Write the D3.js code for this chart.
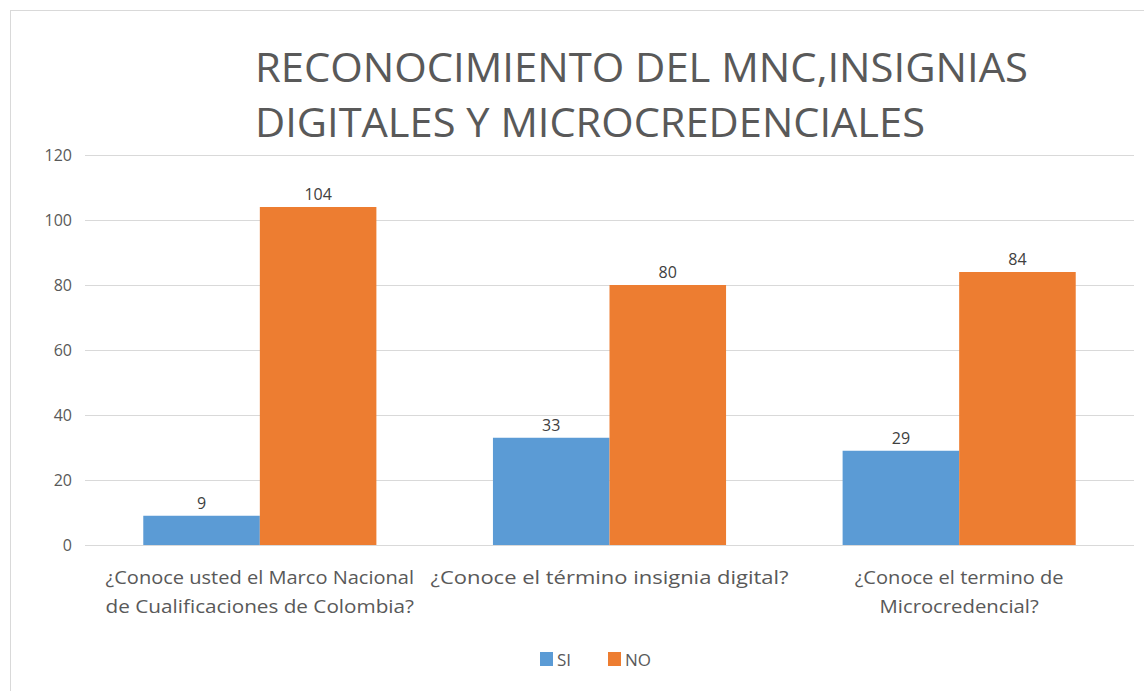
<!DOCTYPE html>
<html>
<head>
<meta charset="utf-8">
<script src="https://cdn.jsdelivr.net/npm/d3@7"></script>
<style>
  body { margin: 0; background: #fff; }
  svg { display: block; font-family: "Open Sans", "Noto Sans", sans-serif; }
</style>
</head>
<body>
<svg id="chart"></svg>
<script>
// data
const categories = [
    ["¿Conoce usted el Marco Nacional", "de Cualificaciones de Colombia?"],
    ["¿Conoce el término insignia digital?"],
    ["¿Conoce el termino de", "Microcredencial?"]
];
const seriesNames = ["SI", "NO"];
const siValues = [9, 33, 29];
const noValues = [104, 80, 84];
const yTicks = [0, 20, 40, 60, 80, 100, 120];
const titleLines = ["RECONOCIMIENTO DEL MNC,INSIGNIAS", "DIGITALES Y MICROCREDENCIALES"];

const colors = { SI: "#5B9BD5", NO: "#ED7D31" };

const width = 1144, height = 691;
const margin = { top: 155, right: 10, bottom: 146, left: 85 };

const svg = d3.select("#chart")
    .attr("width", width)
    .attr("height", height);

// outer frame
svg.append("rect")
    .attr("x", 10.5).attr("y", 10.5)
    .attr("width", 1200).attr("height", 800)
    .attr("fill", "none")
    .attr("stroke", "#d9d9d9");

// title
svg.selectAll(".title")
    .data(titleLines)
    .enter()
    .append("text")
    .attr("class", "title")
    .attr("x", 255)
    .attr("y", (d, i) => 82 + i * 55)
    .attr("fill", "#595959")
    .attr("font-size", "40px")
    .attr("textLength", (d, i) => i === 0 ? 773 : 670)
    .attr("lengthAdjust", "spacingAndGlyphs")
    .text(d => d);

const data = categories.map((c, i) => ({ label: c, SI: siValues[i], NO: noValues[i] }));

const x0 = d3.scaleBand()
    .domain(d3.range(categories.length))
    .range([margin.left, width - margin.right])
    .paddingInner(0)
    .paddingOuter(0);

const x1 = d3.scaleBand()
    .domain(seriesNames)
    .range([0, x0.bandwidth()])
    .paddingOuter(0.5)
    .paddingInner(0);

const y = d3.scaleLinear()
    .domain([0, 120])
    .range([height - margin.bottom, margin.top]);

// grid
const grid = svg.append("g")
    .attr("transform", `translate(${margin.left},0)`)
    .call(d3.axisLeft(y).tickValues(yTicks).tickSize(-(width - margin.left - margin.right)).tickFormat(""));
grid.select(".domain").remove();
grid.selectAll("line").attr("stroke", "#d9d9d9").attr("stroke-width", 1);

// y labels
svg.selectAll(".ylab")
    .data(yTicks)
    .enter()
    .append("text")
    .attr("x", 72)
    .attr("y", d => y(d))
    .attr("dy", "0.35em")
    .attr("text-anchor", "end")
    .attr("fill", "#595959")
    .attr("font-size", "16px")
    .text(d => d);

// bars
const groups = svg.selectAll(".cat")
    .data(data)
    .enter()
    .append("g")
    .attr("transform", (d, i) => `translate(${x0(i)},0)`);

groups.selectAll("rect")
    .data(d => seriesNames.map(s => ({ key: s, value: d[s] })))
    .enter()
    .append("rect")
    .attr("x", d => x1(d.key))
    .attr("y", d => y(d.value))
    .attr("width", x1.bandwidth())
    .attr("height", d => y(0) - y(d.value))
    .attr("fill", d => colors[d.key]);

groups.selectAll(".val")
    .data(d => seriesNames.map(s => ({ key: s, value: d[s] })))
    .enter()
    .append("text")
    .attr("x", d => x1(d.key) + x1.bandwidth() / 2)
    .attr("y", d => y(d.value) - 7)
    .attr("text-anchor", "middle")
    .attr("fill", "#404040")
    .attr("font-size", "16px")
    .text(d => d.value);

// category labels (condensed look like the original Calibri)
groups.each(function(d) {
    d3.select(this).selectAll(".cl")
        .data(d.label)
        .enter()
        .append("text")
        .attr("x", x0.bandwidth() / 2)
        .attr("y", (t, j) => 584 + j * 29)
        .attr("text-anchor", "middle")
        .attr("fill", "#595959")
        .attr("font-size", "18px")
        .attr("textLength", t => t.length * 9.95)
        .attr("lengthAdjust", "spacingAndGlyphs")
        .text(t => t);
});

// legend
const legend = svg.append("g");
const legendX = [540, 608];
seriesNames.forEach((s, i) => {
    legend.append("rect")
        .attr("x", legendX[i]).attr("y", 652)
        .attr("width", 13).attr("height", 14)
        .attr("fill", colors[s]);
    legend.append("text")
        .attr("x", legendX[i] + 17).attr("y", 666)
        .attr("fill", "#595959")
        .attr("font-size", "17px")
        .text(s);
});
</script>
</body>
</html>
